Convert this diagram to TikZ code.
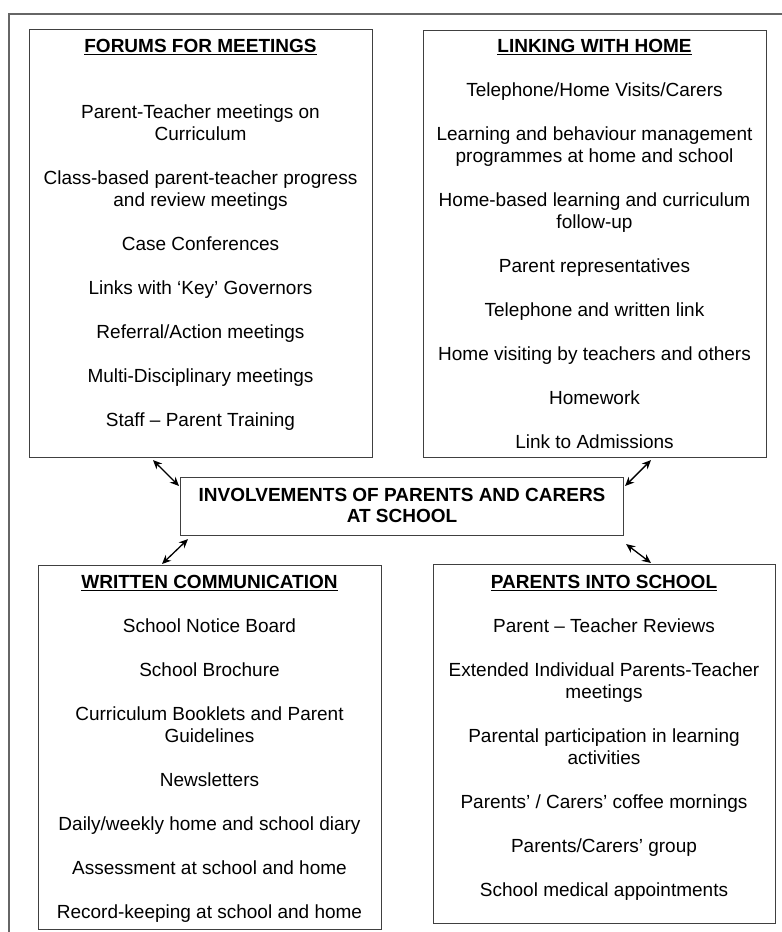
\documentclass[tikz,border=0pt]{standalone}
\usepackage{fontspec}
\setmainfont{Liberation Sans}
\usetikzlibrary{arrows.meta}
\newcommand{\ulhead}[1]{\setbox0=\hbox{\bfseries #1}\rlap{\rule[-3pt]{\wd0}{1.7pt}}\box0}
\begin{document}
\begin{tikzpicture}[x=1pt, y=-1pt,
  panel/.style={draw=black!75, line width=1.1pt, inner sep=0pt, anchor=north west},
  items/.style={align=center, inner sep=0pt, anchor=north, font=\fontsize{19}{22}\selectfont},
  link/.style={{Stealth[length=9pt,width=8pt]}-{Stealth[length=9pt,width=8pt]}, line width=1.3pt}]
\useasboundingbox (0,0) rectangle (782,932);
\draw[black!60, line width=1.2pt] (782,14) -- (9,14) -- (9,932);
\node[panel, minimum width=343pt, minimum height=428pt] (forums) at (29,29) {};
\node[panel, minimum width=343pt, minimum height=427pt] (home) at (423,30) {};
\node[panel, minimum width=443pt, minimum height=58pt] (centre) at (180,477) {};
\node[panel, minimum width=343pt, minimum height=364pt] (written) at (38,565) {};
\node[panel, minimum width=342pt, minimum height=359pt] (visits) at (433,564) {};
\node[items] (forumslist) at (200.5,39) {\ulhead{FORUMS FOR MEETINGS}\\[44pt]
  Parent-Teacher meetings on\\ Curriculum\\[22pt]
  Class-based parent-teacher progress\\ and review meetings\\[22pt]
  Case Conferences\\[22pt]
  Links with ‘Key’ Governors\\[22pt]
  Referral/Action meetings\\[22pt]
  Multi-Disciplinary meetings\\[22pt]
  Staff – Parent Training};
\node[items] (homelist) at (594.5,39) {\ulhead{LINKING WITH HOME}\\[22pt]
  Telephone/Home Visits/Carers\\[22pt]
  Learning and behaviour management\\ programmes at home and school\\[22pt]
  Home-based learning and curriculum\\ follow-up\\[22pt]
  Parent representatives\\[22pt]
  Telephone and written link\\[22pt]
  Home visiting by teachers and others\\[22pt]
  Homework\\[22pt]
  Link to Admissions};
\node[align=center, inner sep=0pt, font=\fontsize{19}{21}\selectfont\bfseries] (centretext) at ([yshift=1pt]centre) {INVOLVEMENTS OF PARENTS AND CARERS\\ AT SCHOOL};
\node[items] (writtenlist) at (209.5,575) {\ulhead{WRITTEN COMMUNICATION}\\[22pt]
  School Notice Board\\[22pt]
  School Brochure\\[22pt]
  Curriculum Booklets and Parent\\ Guidelines\\[22pt]
  Newsletters\\[22pt]
  Daily/weekly home and school diary\\[22pt]
  Assessment at school and home\\[22pt]
  Record-keeping at school and home};
\node[items] (visitslist) at (604,575) {\ulhead{PARENTS INTO SCHOOL}\\[22pt]
  Parent – Teacher Reviews\\[22pt]
  Extended Individual Parents-Teacher\\ meetings\\[22pt]
  Parental participation in learning\\ activities\\[22pt]
  Parents’ / Carers’ coffee mornings\\[22pt]
  Parents/Carers’ group\\[22pt]
  School medical appointments};
\draw[link] ([shift={(124,2)}]forums.south west) -- ([shift={(-1,9)}]centre.north west);
\draw[link] ([shift={(228,2)}]home.south west) -- ([shift={(1,9)}]centre.north east);
\draw[link] ([shift={(8,3)}]centre.south west) -- ([shift={(124,-1)}]written.north west);
\draw[link] ([shift={(2,8)}]centre.south east) -- ([shift={(218,-1)}]visits.north west);
\end{tikzpicture}
\end{document}
